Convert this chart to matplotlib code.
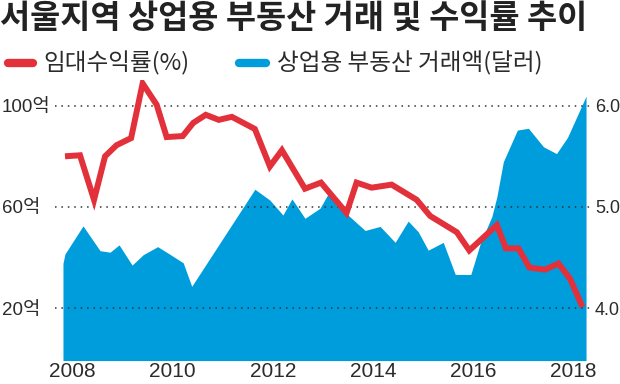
import matplotlib
matplotlib.use('Agg')
import matplotlib.pyplot as plt
from matplotlib.lines import Line2D

# ---------------- data ----------------
title = '서울지역 상업용 부동산 거래 및 수익률 추이'
legend_labels = ['임대수익률(%)', '상업용 부동산 거래액(달러)']

# 상업용 부동산 거래액 (억 달러), x in decimal years
vol_x = [2007.81, 2007.85, 2008.21, 2008.55, 2008.75, 2008.93, 2009.19, 2009.41,
         2009.70, 2009.95, 2010.21, 2010.38, 2011.64, 2011.94, 2012.20, 2012.38,
         2012.64, 2012.94, 2013.11, 2013.47, 2013.84, 2014.14, 2014.44, 2014.70,
         2014.90, 2015.10, 2015.40, 2015.64, 2015.95, 2016.14, 2016.37, 2016.47,
         2016.60, 2016.88, 2017.10, 2017.40, 2017.66, 2017.88, 2018.25]
vol_y = [37.7, 41.4, 52.5, 42.7, 42.1, 45.0, 37.0, 41.1,
         44.3, 41.2, 37.9, 28.6, 67.0, 62.7, 56.8, 63.2,
         55.5, 59.5, 65.4, 57.3, 50.7, 52.3, 46.0, 54.4,
         50.2, 42.9, 46.0, 33.3, 33.3, 45.6, 56.2, 64.0,
         77.9, 90.4, 91.1, 83.8, 81.1, 87.5, 103.8]

# 임대수익률 (%)
rate_x = [2007.85, 2008.15, 2008.43, 2008.65, 2008.88, 2009.17, 2009.40, 2009.68,
          2009.88, 2010.20, 2010.41, 2010.66, 2010.92, 2011.18, 2011.64, 2011.94,
          2012.18, 2012.64, 2012.96, 2013.47, 2013.67, 2013.97, 2014.37, 2014.87,
          2015.14, 2015.67, 2015.92, 2016.47, 2016.65, 2016.90, 2017.12, 2017.43,
          2017.70, 2017.93, 2018.18]
rate_y = [5.50, 5.51, 5.07, 5.50, 5.61, 5.68, 6.22, 6.01,
          5.69, 5.70, 5.83, 5.91, 5.86, 5.89, 5.77, 5.40,
          5.56, 5.18, 5.24, 4.94, 5.24, 5.19, 5.22, 5.07,
          4.91, 4.75, 4.57, 4.82, 4.59, 4.59, 4.40, 4.38,
          4.44, 4.29, 4.01]

left_ticks = [20, 60, 100]
left_labels = ['20억', '60억', '100억']
right_ticks = [4.0, 5.0, 6.0]
right_labels = ['4.0', '5.0', '6.0']
year_ticks = [2008, 2010, 2012, 2014, 2016, 2018]
year_labels = ['2008', '2010', '2012', '2014', '2016', '2018']

# ---------------- style ----------------
BLUE = '#009ddc'
RED = '#e2313b'
TXT = '#2b2b2b'
KR = ['Noto Sans CJK KR', 'DejaVu Sans']
NUM = ['Liberation Sans', 'Noto Sans CJK KR', 'DejaVu Sans']

W, H = 620, 384
fig = plt.figure(figsize=(W / 100, H / 100), dpi=100)

ax_left, ax_right = 55, 592
ax_top, ax_bot = 80, 360.6
ax = fig.add_axes([ax_left / W, (H - ax_bot) / H,
                   (ax_right - ax_left) / W, (ax_bot - ax_top) / H])

x_lim = (2007.651, 2018.369)
y_lim = (-0.76, 110.2)
r_lim = (3.481, 6.254)

ax.set_xlim(*x_lim)
ax.set_ylim(*y_lim)
ax.fill_between(vol_x, vol_y, y_lim[0], color=BLUE, linewidth=0, zorder=1)

for v in left_ticks:
    ax.axhline(v, color='#333333', linewidth=1.1, linestyle=(0, (1, 3.2)), zorder=3)

for s in ax.spines.values():
    s.set_visible(False)
ax.set_yticks(left_ticks)
ax.set_yticklabels(left_labels, family=NUM, fontsize=13.5, color=TXT)
ax.tick_params(axis='y', length=0, pad=38.3)
for lab in ax.get_yticklabels():
    lab.set_horizontalalignment('left')
ax.set_xticks(year_ticks)
ax.set_xticklabels(year_labels, family=NUM, fontsize=15, color=TXT)
ax.tick_params(axis='x', length=0, pad=1)

ax2 = ax.twinx()
ax2.set_ylim(*r_lim)
ax2.plot(rate_x, rate_y, color=RED, linewidth=4.3, solid_joinstyle='miter',
         solid_capstyle='butt', zorder=5)
for s in ax2.spines.values():
    s.set_visible(False)
ax2.set_yticks(right_ticks)
ax2.set_yticklabels(right_labels, family=NUM, fontsize=13, color=TXT)
ax2.tick_params(axis='y', length=0, pad=2.2)
ax.patch.set_visible(False)

# ---------------- title & legend ----------------
fig.text(0 / W, 1 - 2 / H, title, family=KR, fontsize=23.6, fontweight='bold',
         color='#222222', ha='left', va='top')

fig.add_artist(Line2D([8 / W, 33 / W], [1 - 63 / H, 1 - 63 / H], color=RED,
                      linewidth=6, solid_capstyle='round', transform=fig.transFigure))
fig.text(43 / W, 1 - 63 / H, legend_labels[0], family=KR, fontsize=17,
         color=TXT, ha='left', va='center')
fig.add_artist(Line2D([239 / W, 266 / W], [1 - 63 / H, 1 - 63 / H], color=BLUE,
                      linewidth=6, solid_capstyle='round', transform=fig.transFigure))
fig.text(277 / W, 1 - 63 / H, legend_labels[1], family=KR, fontsize=17,
         color=TXT, ha='left', va='center')

fig.savefig('out.png', dpi=100)
